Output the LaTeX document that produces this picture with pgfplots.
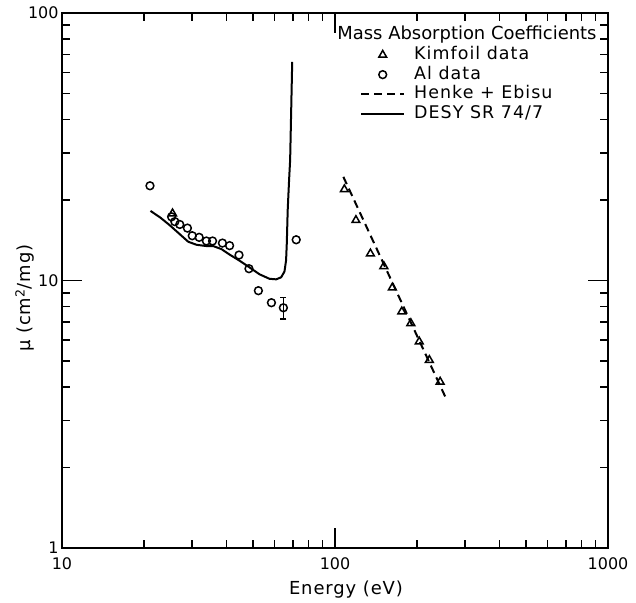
\documentclass[border=0pt]{standalone}
\usepackage{fontspec}
\setmainfont{DejaVu Sans}
\usepackage{pgfplots}
\pgfplotsset{compat=1.18}
\begin{document}
\begin{tikzpicture}
\useasboundingbox (-62bp,-55bp) rectangle (574bp,548bp);
\begin{axis}[
  at={(0bp,0bp)}, anchor=south west,
  scale only axis, width=546bp, height=535bp,
  xmode=log, ymode=log,
  xmin=10, xmax=1000, ymin=1, ymax=100,
  xtick={10,100,1000}, xticklabels={10,100,1000},
  ytick={1,10,100}, yticklabels={1,10,100},
  axis line style={line width=2bp},
  every tick/.style={black, line width=1.6bp},
  major tick length=20bp, minor tick length=8bp,
  tick label style={font=\fontsize{16}{19}\selectfont},
  xticklabel style={yshift=-6bp},
  xlabel={Energy (eV)},
  ylabel={μ (cm\textsuperscript{2}/mg)},
  label style={font=\fontsize{18}{21}\selectfont\addfontfeatures{LetterSpace=5}},
  xlabel style={at={(axis description cs:0.52,0)}, anchor=center, yshift=-42bp},
  ylabel style={at={(axis description cs:-0.068,0.467)}, anchor=center},
  legend image code/.code={\draw[mark repeat=2,mark phase=2,#1] plot coordinates {(0bp,0bp) (21.5bp,0bp) (43bp,0bp)};},
  legend style={draw=none, fill=none, at={(0.5458,0.936)}, anchor=north west,
    font=\fontsize{17.5}{20}\selectfont\addfontfeatures{LetterSpace=6}, inner sep=0pt, row sep=4.7bp, column sep=9bp,
    nodes={inner sep=0pt, text height=12bp, text depth=3bp}},
  legend cell align=left,
]
% Kimfoil data (triangles)
\addplot[only marks, mark=triangle, mark size=4.5bp, line width=1.5bp] coordinates {
 (108.2,21.9) (119.3,16.8) (134.8,12.6) (151.0,11.3) (162.2,9.4)
 (175.6,7.65) (189.6,6.92) (203.5,5.91) (221.6,5.04) (242.7,4.18)
 (25.4,17.8)
};
\addlegendentry{Kimfoil data}
% Al data (circles)
\addplot[only marks, mark=o, mark size=3.9bp, line width=1.5bp] coordinates {
 (21.0,22.6) (25.2,17.3) (25.9,16.6) (27.0,16.2) (28.8,15.7) (30.0,14.7)
 (31.8,14.5) (33.8,14.05) (35.6,14.05) (38.7,13.8) (41.1,13.5) (44.5,12.45)
 (48.4,11.07) (52.4,9.16) (58.5,8.26) (72.1,14.2)
};
\addlegendentry{Al data}
% Henke + Ebisu (dashed)
\addplot[line width=2bp, dash pattern=on 8bp off 5bp] coordinates {
 (107.3,24.4) (254.0,3.66)
};
\addlegendentry{Henke + Ebisu}
% DESY SR 74/7 (solid)
\addplot[line width=2bp] coordinates {
 (21.1,18.2) (22.9,17.2) (24.8,16.1) (27.0,14.9) (29.0,13.96) (31.1,13.6)
 (33.8,13.45) (35.8,13.45) (38.4,13.1) (41.1,12.5) (44.7,11.86) (48.6,11.2)
 (52.9,10.55) (57.5,10.15) (60.9,10.1) (63.5,10.28) (65.3,10.8) (66.2,11.9)
 (66.6,13.8) (67.1,18.3) (67.9,23.8) (68.5,28.2) (69.7,65.6)
};
\addlegendentry{DESY SR 74/7}
% Al data point with error bar
\addplot[only marks, mark=o, mark size=3.9bp, line width=1.5bp,
  error bars/.cd, y dir=both, y explicit, error bar style={line width=1.5bp}, error mark options={rotate=90, mark size=3bp, line width=1.5bp}]
  coordinates {(64.7,7.91) +- (0,0.72)};
\addlegendimage{empty legend}
\node[anchor=west, font=\fontsize{18}{21}\selectfont] at (rel axis cs:0.498,0.959) {Mass Absorption Coefficients};
\end{axis}
\end{tikzpicture}
\end{document}
